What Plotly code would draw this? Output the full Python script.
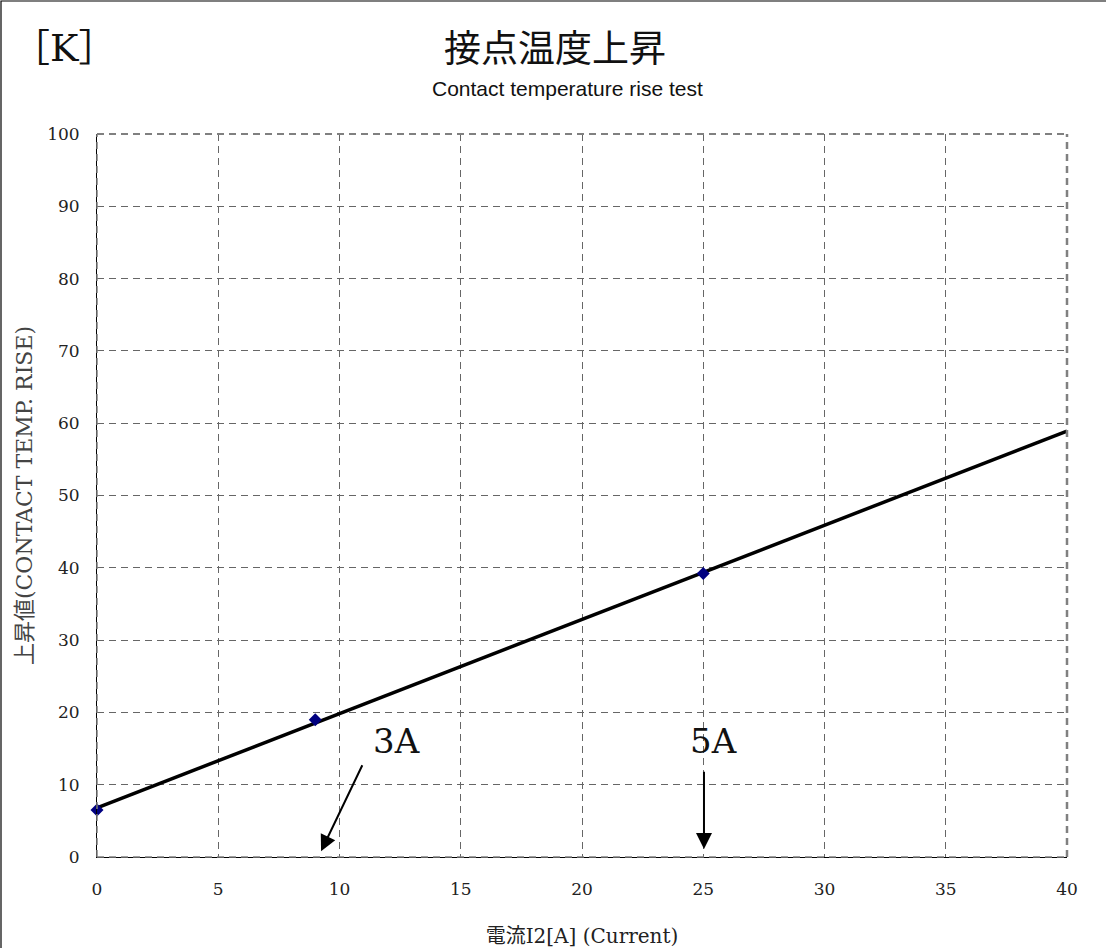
import numpy as np
import plotly.graph_objects as go

# ---- data ----
current = [0, 9, 25]            # 電流 I2 [A]
rise = [6.5, 19.0, 39.2]        # 上昇値 [K]
x_ticks = [0, 5, 10, 15, 20, 25, 30, 35, 40]
y_ticks = [0, 10, 20, 30, 40, 50, 60, 70, 80, 90, 100]
x_range = [0, 40]
y_range = [0, 100]

# linear trend line fitted to the measured points
slope, intercept = np.polyfit(current, rise, 1)
trend_x = np.array(x_range, dtype=float)
trend_y = slope * trend_x + intercept

SERIF = "DejaVu Serif, Noto Sans CJK JP"
GRID = "#666666"
DASH = "7px,5px"

fig = go.Figure()
fig.add_trace(go.Scatter(x=trend_x, y=trend_y, mode="lines",
                         line=dict(color="black", width=3.5),
                         hoverinfo="skip", showlegend=False))
fig.add_trace(go.Scatter(x=current, y=rise, mode="markers", cliponaxis=False,
                         marker=dict(symbol="diamond", size=10, color="#000080"),
                         showlegend=False))

fig.update_layout(
    width=1106, height=948,
    margin=dict(l=97, r=39, t=134, b=91),
    paper_bgcolor="white", plot_bgcolor="white",
    showlegend=False,
    font=dict(family=SERIF, size=17, color="#222"),
)
fig.update_xaxes(range=x_range, tickvals=x_ticks, showgrid=True, automargin=False,
                 gridcolor=GRID, gridwidth=1, griddash=DASH,
                 zeroline=False, showline=True, linecolor="black", linewidth=1,
                 ticks="", ticklabelstandoff=17,
                 tickfont=dict(family=SERIF, size=17, color="#222"),
                 title=dict(text="電流I2[A] (Current)", standoff=30,
                            font=dict(family=SERIF, size=20, color="#222")))
fig.update_yaxes(range=y_range, tickvals=y_ticks, showgrid=True, automargin=False,
                 gridcolor=GRID, gridwidth=1, griddash=DASH,
                 zeroline=False, showline=True, linecolor="black", linewidth=1,
                 ticks="", ticklabelstandoff=13,
                 tickfont=dict(family=SERIF, size=17, color="#222"),
                 title=dict(text="上昇値(CONTACT TEMP. RISE)", standoff=8,
                            font=dict(family=SERIF, size=22, color="#444")))

# plot-area dashed border (top / right) and gridline over the bottom axis
fig.add_shape(type="line", xref="paper", yref="paper", x0=0, x1=1, y0=1, y1=1,
              line=dict(color="#808080", width=2, dash=DASH))
fig.add_shape(type="line", xref="paper", yref="paper", x0=1, x1=1, y0=0, y1=1,
              line=dict(color="#808080", width=2.5, dash=DASH))
fig.add_shape(type="line", xref="paper", yref="paper", x0=0, x1=1, y0=0, y1=0,
              line=dict(color="#808080", width=1.5, dash=DASH))
fig.add_shape(type="line", xref="paper", yref="paper", x0=0, x1=0, y0=0, y1=1,
              line=dict(color="#808080", width=1.5, dash=DASH))

# outer frame of the chart
fig.add_shape(type="rect", xref="paper", yref="paper",
              x0=-96 / 970, x1=1038 / 970, y0=-0.2, y1=856 / 723,
              line=dict(color="black", width=1.2), layer="above")

# titles
fig.add_annotation(text="接点温度上昇", xref="paper", yref="paper",
                   x=(555 - 97) / 970, y=(857 - 50) / 723, showarrow=False,
                   xanchor="center", yanchor="middle",
                   font=dict(family=SERIF, size=37, color="#111"))
fig.add_annotation(text="Contact temperature rise test", xref="paper", yref="paper",
                   x=(567 - 97) / 970, y=(857 - 88) / 723, showarrow=False,
                   xanchor="center", yanchor="middle",
                   font=dict(family="Liberation Sans", size=21, color="#111"))
fig.add_annotation(text="［K］", xref="paper", yref="paper",
                   x=(64 - 97) / 970, y=(857 - 48) / 723, showarrow=False,
                   xanchor="center", yanchor="middle",
                   font=dict(family=SERIF, size=38, color="#111"))

# current labels with arrows
fig.add_annotation(text="3A", x=12.37, y=16.0, showarrow=False,
                   font=dict(family=SERIF, size=34, color="#111"))
fig.add_annotation(text="5A", x=25.44, y=16.0, showarrow=False,
                   font=dict(family=SERIF, size=34, color="#111"))
fig.add_annotation(x=9.24, y=0.8, ax=10.97, ay=12.9, axref="x", ayref="y",
                   text="", showarrow=True, arrowhead=2, arrowsize=1.6,
                   arrowwidth=2, arrowcolor="black")
fig.add_annotation(x=25.03, y=1.1, ax=25.03, ay=12.0, axref="x", ayref="y",
                   text="", showarrow=True, arrowhead=2, arrowsize=1.6,
                   arrowwidth=2, arrowcolor="black")

fig.write_html("out.html", config={"displayModeBar": False},
               post_script="document.body.style.margin='0';document.body.style.padding='0';")
